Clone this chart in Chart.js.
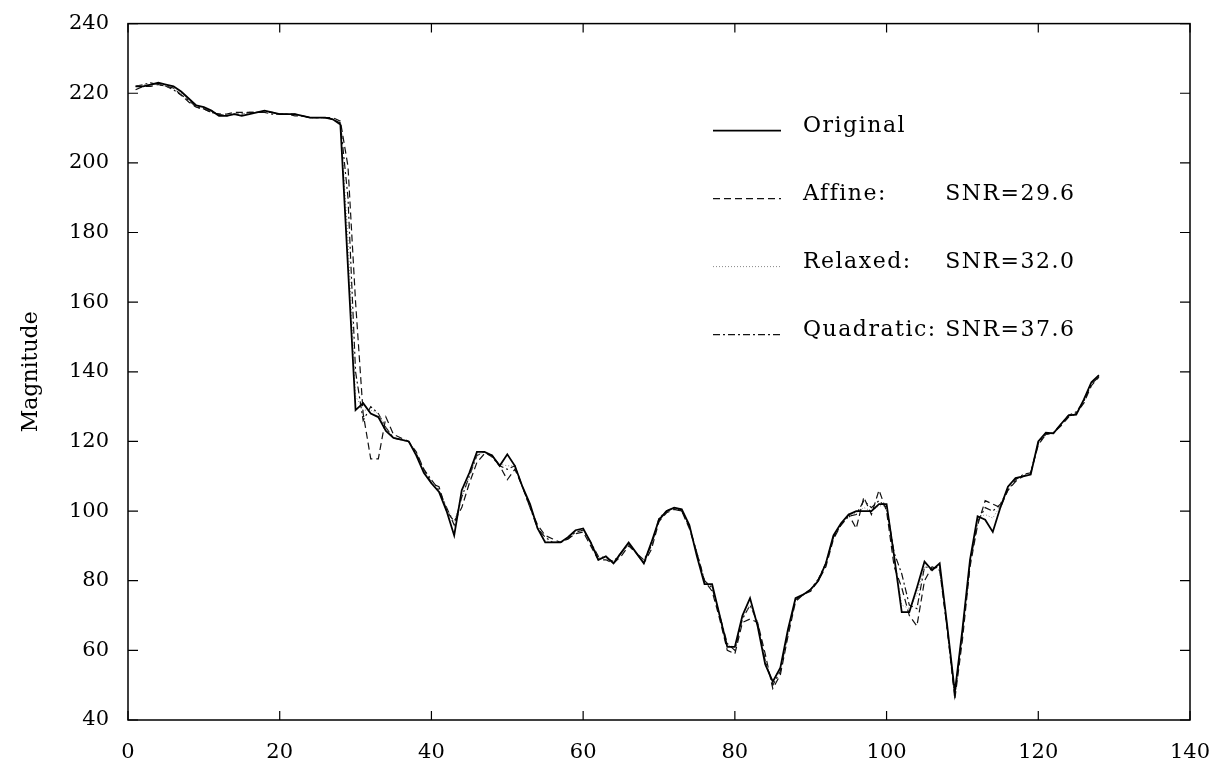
<!DOCTYPE html>
<html>
<head>
<meta charset="utf-8">
<script src="https://cdn.jsdelivr.net/npm/chart.js@4"></script>
<style>
  html, body { margin: 0; padding: 0; background: #fff; }
  #wrap { width: 1227px; height: 763px; position: relative; }
</style>
</head>
<body>
<div id="wrap"><canvas id="grafico"></canvas></div>
<script>
// datos (indice 1..128)
const original = [222,222,222.5,223,222.5,222,220.5,218.5,216.5,216, 215,213.5,213.5,214,213.5,214,214.5,215,214.5,214,
  214,214,213.5,213,213,213,212.5,211,170,129, 131,128,127,123,121,120.5,120,116,111,108,
  105.5,100,93,106,111,117,117,116,113,116.3, 113,107,102,95,91,91,91,92.5,94.5,95,
  91,86,87,85,88,91,88,85,91,97.5, 100,101,100.5,96,87,79,79,70,61,61,
  70,75,67,56,51,55,66,75,76,77.5, 80,85,93,96.5,99,100,100,100,102,102,
  87,71,71,78,85.5,83,85,67,48,66, 86,98.5,97.5,94,101,107,109.5,110,110.5,120,
  122.5,122.3,125,127.5,127.7,132,137,139];

const affine = [221,222,222,222.5,222,221.5,219.5,217.5,216,215.5, 214.5,214,214,214.5,214.5,214.5,214.5,214.5,214.5,214,
  214,214,213.5,213,213,213,213,212,199,160, 128,115,115,127,122,121,120,117,112,108,
  107,100,97,101,108,114,116.5,116,113,109, 112,107,101,96,93,92,91,92,93.5,94,
  90,86,86,85,87,90,88,85,89,97, 99.5,100.5,100,95,88,80,77,69,60,59,
  68,69,68,59,49,53,64,74,76,77, 80,84,92,96,99,95,104,99,106,100,
  84,78,70,67,80,84,83,66,46,63, 84,96,103,102,101,106,108.5,110,111,119,
  122,122.5,124.5,127,128,131,136,138.5];

const relaxed = [222,222.5,222.5,222.5,222,221.5,220,218,216.5,216, 215,214,213.5,214,214,214.5,214.5,215,214.5,214,
  214,214,213.5,213,213,213,212.5,211.5,178,133, 129,129,128,124,121,120.5,120,116,111.5,108.5,
  106,101,97,104,110,116,117,116,113.5,113, 113,107,101.5,95,91.5,91,91,92.5,94,94.5,
  91,86.5,87,85,88,90.5,88,85.5,90.5,98, 100,101,100.5,96,87.5,79.5,78.5,70,61.5,61,
  69,73,67.5,56,51,55,65.5,75,76,77.5, 80,85,93,96.5,99,99.5,101,100,101.5,101.5,
  87,73,72,76,84,83.5,84.5,67,48,65.5, 85.5,98,99,98,101.5,107,109.5,110,110.5,120,
  122.5,122.3,125,127.5,128,132,137,139];

const quadratic = [222,222.5,223,222.5,222,221,219.5,218,216,215.5, 214.5,214,213.5,214,214,214.5,214.5,214.5,214,214,
  214,213.5,213.5,213,213,213,212.5,211.5,190,140, 126,130,128,124,121,120.5,120,116.5,112,109,
  106,101,96,104,110,116,117,115.5,113,112, 113,107,101,95,92.5,91,91,92,94,94.5,
  91,87,86.5,85.5,88,90.5,88,86,90,98, 100,101,100,95.5,88,80,78,70,62,60,
  69,73,68,57,50,54,65,74.5,76,77.5, 80.5,85,92.5,96,98.5,99,103,101,103,101,
  88,82,73,72,84,83.5,84,66,47,65, 85,97,101,100,102,106,109,110.5,111,119.5,
  122,122.5,125,127.5,128.5,131.5,136.5,138.5];

const nombres = ['Original', 'Affine:', 'Relaxed:', 'Quadratic:'];
const snr = ['', 'SNR=29.6', 'SNR=32.0', 'SNR=37.6'];
const xTicks = [0, 20, 40, 60, 80, 100, 120, 140];
const yTicks = [40, 60, 80, 100, 120, 140, 160, 180, 200, 220, 240];

const FUENTE = '"DejaVu Serif", serif';

function puntos(serie) {
    return serie.map((v, i) => ({ x: i + 1, y: v }));
}

// marco con marcas hacia dentro y leyenda
const marcoPlugin = {
    id: 'marco',
    afterDraw(chart) {
        const { ctx, chartArea: a, scales } = chart;
        ctx.save();
        ctx.strokeStyle = '#000';
        ctx.lineWidth = 1.5;
        ctx.strokeRect(a.left, a.top, a.right - a.left, a.bottom - a.top);
        ctx.lineWidth = 1.2;
        ctx.beginPath();
        xTicks.forEach(t => {
            const px = scales.x.getPixelForValue(t);
            ctx.moveTo(px, a.bottom); ctx.lineTo(px, a.bottom - 9);
            ctx.moveTo(px, a.top); ctx.lineTo(px, a.top + 9);
        });
        yTicks.forEach(t => {
            const py = scales.y.getPixelForValue(t);
            ctx.moveTo(a.left, py); ctx.lineTo(a.left + 10, py);
            ctx.moveTo(a.right, py); ctx.lineTo(a.right - 10, py);
        });
        ctx.stroke();

        // leyenda
        ctx.font = '22px ' + FUENTE;
        ctx.letterSpacing = '1.5px';
        ctx.fillStyle = '#000';
        ctx.textBaseline = 'middle';
        const x0 = a.left + 585, x1 = a.left + 653, xt = a.left + 675;
        const xs = xt + ctx.measureText('Quadratic: ').width;
        chart.data.datasets.forEach((ds, i) => {
            const y = a.top + 103 + i * 68;
            ctx.beginPath();
            ctx.strokeStyle = ds.borderColor;
            ctx.lineWidth = ds.borderWidth;
            ctx.setLineDash(ds.borderDash || []);
            ctx.moveTo(x0, y + 4); ctx.lineTo(x1, y + 4);
            ctx.stroke();
            ctx.setLineDash([]);
            ctx.fillText(nombres[i], xt, y);
            if (snr[i]) ctx.fillText(snr[i], xs, y);
        });
        ctx.restore();
    }
};

const ctx = document.getElementById('grafico').getContext('2d');

const chart = new Chart(ctx, {
    type: 'line',
    data: {
        datasets: [
            { label: nombres[0], data: puntos(original), borderColor: '#000', borderWidth: 1.8, borderDash: [] },
            { label: nombres[1], data: puntos(affine), borderColor: '#111', borderWidth: 1.2, borderDash: [7, 4] },
            { label: nombres[2], data: puntos(relaxed), borderColor: '#888', borderWidth: 1, borderDash: [1, 2] },
            { label: nombres[3], data: puntos(quadratic), borderColor: '#111', borderWidth: 1.2, borderDash: [7, 3, 2, 3] }
        ]
    },
    options: {
        responsive: true,
        maintainAspectRatio: false,
        animation: false,
        layout: { padding: { top: 20, right: 37, left: 0, bottom: 0 } },
        elements: { point: { radius: 0 }, line: { tension: 0 } },
        plugins: { legend: { display: false }, tooltip: { enabled: false } },
        scales: {
            x: {
                type: 'linear', min: 0, max: 140,
                grid: { display: false }, border: { display: false },
                ticks: { stepSize: 20, color: '#000', padding: 12, font: { family: FUENTE, size: 21 } },
                afterFit: s => { s.height = 43; }
            },
            y: {
                min: 40, max: 240,
                grid: { display: false }, border: { display: false },
                ticks: { stepSize: 20, color: '#000', padding: 11, font: { family: FUENTE, size: 21 } },
                title: { display: true, text: 'Magnitude', color: '#000', font: { family: FUENTE, size: 22 }, padding: { top: 18, bottom: 0 } },
                afterFit: s => { s.width = 128; }
            }
        }
    },
    plugins: [marcoPlugin]
});
</script>
</body>
</html>
